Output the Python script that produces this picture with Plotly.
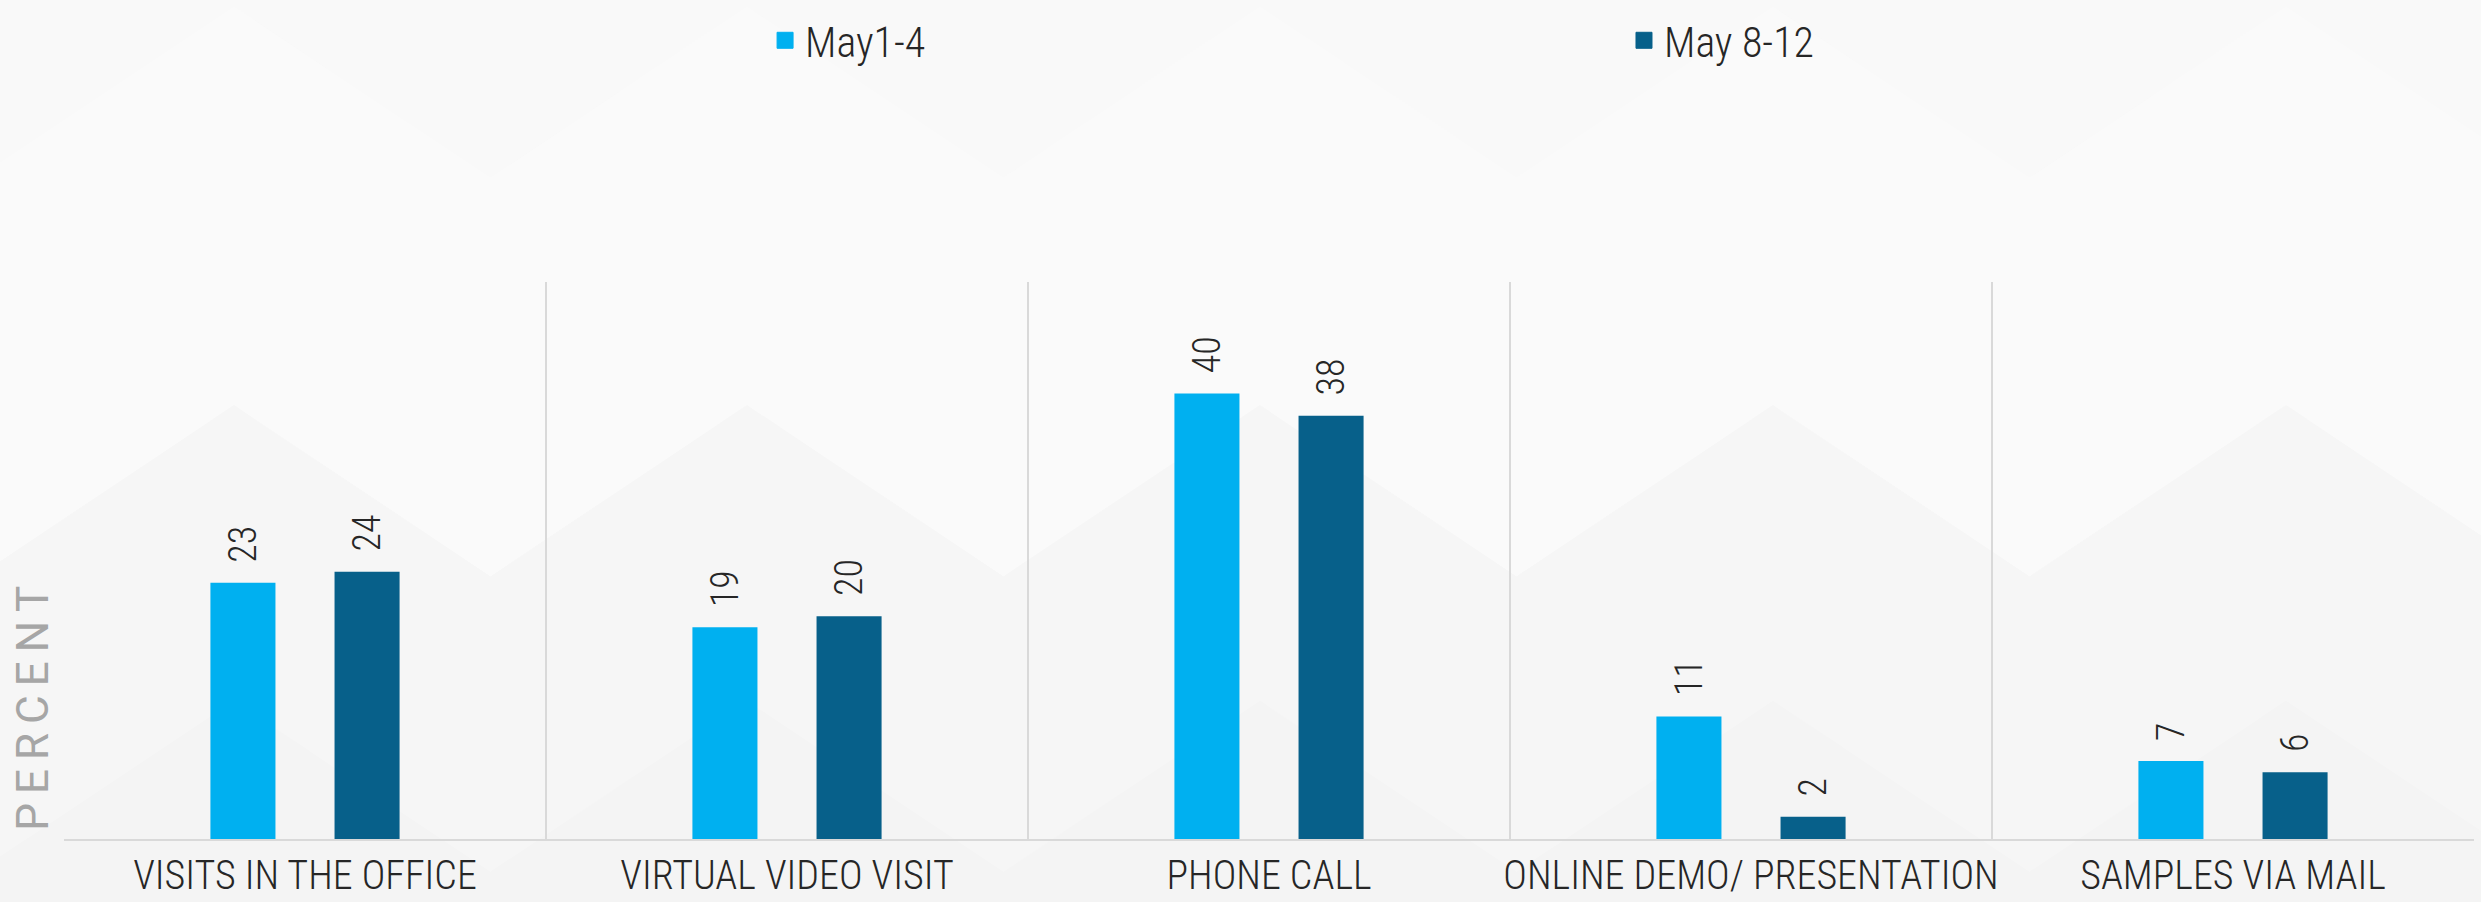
import plotly.graph_objects as go

# Survey: how reps are engaging with practices, two collection windows
categories = [
    "VISITS IN THE OFFICE",
    "VIRTUAL VIDEO VISIT",
    "PHONE CALL",
    "ONLINE DEMO/ PRESENTATION",
    "SAMPLES VIA MAIL",
]
may_1_4 = [23, 19, 40, 11, 7]
may_8_12 = [24, 20, 38, 2, 6]

series_names = ["May1-4", "May 8-12"]
series_colors = ["#00B0F0", "#07608A"]
legend_ids = ["legend", "legend2"]

FONT = "Roboto Condensed, Liberation Sans Narrow, DejaVu Sans Condensed, Roboto, sans-serif"
TEXT_COLOR = "#262626"

W, H = 2481, 902
M_L, M_R, M_T, M_B = 64, 7, 279, 63
PLOT_W = W - M_L - M_R
PLOT_H = H - M_T - M_B


def to_paper(px, py):
    return (px - M_L) / PLOT_W, (H - M_B - py) / PLOT_H


# Faint low-poly backdrop: bands bounded by zigzag edges
def zigzag(y_peak, rise=172, period=513, x_peak0=234):
    pts = []
    x = x_peak0 - 2 * period
    while x <= W + 2 * period:
        pts.append((x, y_peak))
        pts.append((x + period / 2, y_peak + rise))
        x += period
    return pts


def band_path(top_pts, bottom_pts):
    pts = top_pts + list(reversed(bottom_pts))
    coords = [to_paper(px, py) for px, py in pts]
    return "M" + "L".join(f"{a:.5f},{b:.5f}" for a, b in coords) + "Z"


band_edges = [-400, 2, 403, 700, 1400]
band_fills = ["#f9f9f9", "#fafafa", "#f6f6f6", "#f4f4f4"]
shapes = []
for (y0, y1), fill in zip(zip(band_edges[:-1], band_edges[1:]), band_fills):
    shapes.append(dict(
        type="path",
        xref="paper", yref="paper",
        path=band_path(zigzag(y0), zigzag(y1)),
        fillcolor=fill,
        line=dict(width=0),
        layer="below",
    ))

fig = go.Figure()

for name, values, color in zip(series_names, [may_1_4, may_8_12], series_colors):
    fig.add_trace(go.Bar(
        x=categories,
        y=values,
        name=name,
        legendgroup=name,
        showlegend=False,
        marker=dict(color=color, line=dict(width=0)),
        texttemplate="\u00a0\u00a0%{y}",
        textposition="outside",
        textangle=-90,
        constraintext="none",
        cliponaxis=False,
        textfont=dict(family=FONT, size=38, color=TEXT_COLOR, weight=300),
    ))

# Larger square swatches, one legend per series
for name, color, lg in zip(series_names, series_colors, legend_ids):
    fig.add_trace(go.Scatter(
        x=[None], y=[None],
        mode="markers",
        name=name,
        legendgroup=name,
        legend=lg,
        marker=dict(symbol="square", size=16, color=color,
                    line=dict(width=1, color=color)),
    ))

legend_style = dict(
    orientation="h",
    xanchor="left",
    y=to_paper(0, 2)[1],
    yanchor="top",
    font=dict(family=FONT, size=42, color=TEXT_COLOR, weight=300),
    bgcolor="rgba(0,0,0,0)",
    itemclick=False,
    itemdoubleclick=False,
)

fig.update_layout(
    width=W,
    height=H,
    margin=dict(l=M_L, r=M_R, t=M_T, b=M_B),
    paper_bgcolor="#f7f7f7",
    plot_bgcolor="rgba(0,0,0,0)",
    barmode="group",
    bargap=0.485,
    bargroupgap=0.476,
    font=dict(family=FONT, color=TEXT_COLOR),
    legend=dict(x=0.2909, **legend_style),
    legend2=dict(x=0.6473, **legend_style),
    shapes=shapes,
    xaxis=dict(
        type="category",
        tickson="boundaries",
        showgrid=True,
        gridcolor="#d9d9d9",
        gridwidth=1.5,
        showline=True,
        linecolor="#d9d9d9",
        linewidth=2,
        ticks="",
        tickangle=0,
        ticklabelstandoff=0,
        automargin=False,
        tickfont=dict(family=FONT, size=40, color=TEXT_COLOR, weight=300),
        zeroline=False,
    ),
    yaxis=dict(
        range=[0, 50],
        showgrid=False,
        showticklabels=False,
        ticks="",
        zeroline=False,
        showline=False,
        automargin=False,
    ),
    annotations=[
        dict(
            text="\u2009".join("PERCENT"),
            xref="paper", yref="paper",
            x=to_paper(33, 0)[0], y=to_paper(0, 708)[1],
            xanchor="center", yanchor="middle",
            textangle=-90,
            showarrow=False,
            font=dict(family="Roboto, sans-serif", size=44, color="#a6a6a6", weight=400),
        )
    ],
)

fig.write_html("out.html")
